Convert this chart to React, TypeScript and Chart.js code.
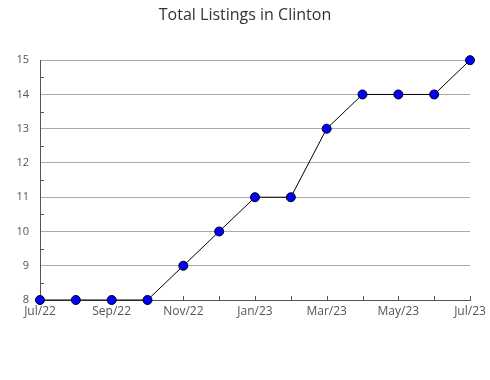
import React, { useEffect, useRef } from "react";
import { Chart, registerables } from "chart.js";

Chart.register(...registerables);

const months = ["Jul/22","Aug/22","Sep/22","Oct/22","Nov/22","Dec/22","Jan/23","Feb/23","Mar/23","Apr/23","May/23","Jun/23","Jul/23"];
const listings = [8, 8, 8, 8, 9, 10, 11, 11, 13, 14, 14, 14, 15];
const yMin = 8;
const yMax = 15;
const titleText = "Total Listings in Clinton";

const tickPlugin = {
  id: "innerTicks",
  beforeDatasetsDraw(chart: any) {
    const ctx = chart.ctx;
    const x = chart.scales.x;
    const y = chart.scales.y;
    const area = chart.chartArea;
    ctx.save();
    ctx.strokeStyle = "#555";
    ctx.lineWidth = 1;
    ctx.beginPath();
    for (let i = 0; i < months.length; i++) {
      const px = Math.round(x.getPixelForValue(i)) + 0.5;
      ctx.moveTo(px, area.bottom);
      ctx.lineTo(px, area.bottom - 4);
    }
    for (let v = yMin; v < yMax; v++) {
      const py = Math.round(y.getPixelForValue(v + 0.5)) + 0.5;
      ctx.moveTo(area.left, py);
      ctx.lineTo(area.left + 4, py);
    }
    ctx.stroke();
    ctx.restore();
  },
};

export default function App() {
  const ref = useRef<HTMLCanvasElement>(null);
  useEffect(() => {
    document.body.style.margin = "0";
    const chart = new Chart(ref.current!, {
      type: "line",
      data: {
        labels: months,
        datasets: [
          {
            data: listings,
            borderColor: "#000",
            borderWidth: 1,
            pointBackgroundColor: "#0000ff",
            pointBorderColor: "#000",
            pointBorderWidth: 1,
            pointRadius: 4.5,
            pointStyle: "circle",
            clip: false as any,
          },
        ],
      },
      options: {
        animation: false,
        responsive: false,
        maintainAspectRatio: false,
        layout: { padding: 0 },
        plugins: {
          legend: { display: false },
          tooltip: { enabled: false },
          title: {
            display: true,
            text: titleText,
            color: "#333",
            font: { family: "Open Sans", size: 16, weight: "normal" },
            padding: { top: 6, bottom: 35 },
          },
        },
        scales: {
          x: {
            offset: false,
            grid: { drawOnChartArea: false, drawTicks: false },
            border: { display: true, color: "#555" },
            ticks: {
              autoSkip: false,
              maxRotation: 0,
              padding: 4,
              color: "#555",
              font: { family: "Open Sans", size: 12 },
              callback: (v: any, i: number) => (i % 2 === 0 ? months[i] : ""),
            },
            afterFit: (s: any) => { s.height = 80; },
          },
          y: {
            min: yMin,
            max: yMax,
            grid: { color: "#aaa", drawTicks: false },
            border: { display: true, color: "#555" },
            ticks: {
              stepSize: 1,
              padding: 11,
              color: "#555",
              font: { family: "Open Sans", size: 11 },
            },
            afterFit: (s: any) => { s.width = 40; },
          },
          yRight: {
            position: "right",
            display: true,
            grid: { display: false, drawTicks: false },
            border: { display: false },
            ticks: { display: false },
            afterFit: (s: any) => { s.width = 20; },
          },
        },
      },
      plugins: [tickPlugin],
    });
    return () => chart.destroy();
  }, []);
  return <canvas ref={ref} width={490} height={380} style={{ display: "block" }} />;
}
